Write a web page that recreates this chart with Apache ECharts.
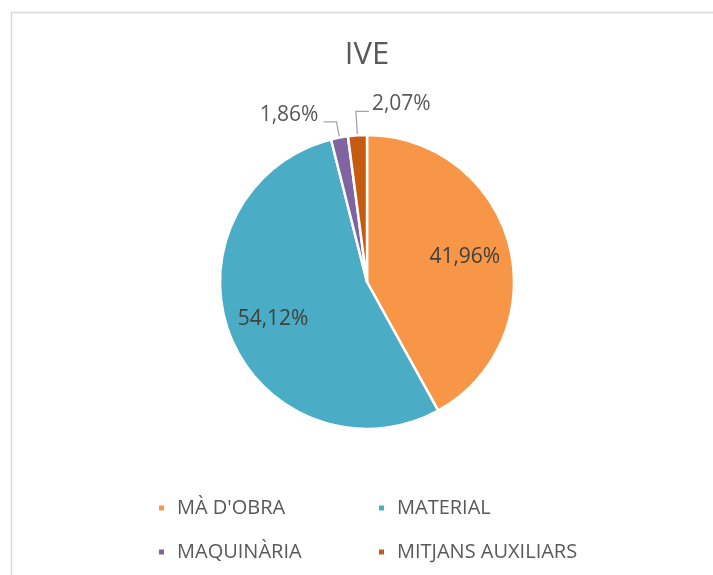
<!DOCTYPE html>
<html>
<head>
<meta charset="utf-8">
<script src="https://cdn.jsdelivr.net/npm/echarts@6/dist/echarts.min.js"></script>
<style>
  html, body { margin: 0; padding: 0; background: #ffffff; }
  #chart { width: 713px; height: 575px; }
</style>
</head>
<body>
<div id="chart"></div>
<script>
// ---- data ----
const titleText = 'IVE';
const categories = ["MÀ D'OBRA", 'MATERIAL', 'MAQUINÀRIA', 'MITJANS AUXILIARS'];
const values = [41.96, 54.12, 1.86, 2.07];

// ---- styles ----
const colors = ['#F79646', '#4BACC6', '#8064A2', '#C55A11'];
const leaderLength = [0, 0, 16, 24];
const legendLeft = [157, 377, 157, 377];
const legendTop = [498, 498, 542, 542];
const FONT = '"Open Sans", "Liberation Sans", sans-serif';

function fmt(v) { return v.toFixed(2).replace('.', ',') + '%'; }

const isSmall = values.map(v => v < 5);

const mainData = categories.map((name, i) => ({
  name: name,
  value: values[i],
  itemStyle: { color: colors[i] },
  label: { show: isSmall[i] },
  labelLine: { show: isSmall[i], length: leaderLength[i], length2: 13 }
}));

const innerLabelData = categories.map((name, i) => ({
  name: name,
  value: values[i],
  label: { show: !isSmall[i] }
}));

const legends = categories.map((name, i) => ({
  data: [name], left: legendLeft[i], top: legendTop[i], padding: 0,
  icon: 'rect', itemWidth: 7, itemHeight: 7,
  selectedMode: false,
  textStyle: { fontFamily: FONT, fontSize: 20, color: '#595959', padding: [0, 0, 0, 7] }
}));

const chart = echarts.init(document.getElementById('chart'), null, { renderer: 'canvas' });

chart.setOption({
  animation: false,
  backgroundColor: '#ffffff',
  graphic: [{
    type: 'rect', left: 9, top: 10, silent: true,
    shape: { x: 0, y: 0, width: 800, height: 700 },
    style: { fill: 'none', stroke: '#d9d9d9', lineWidth: 1.5 }
  }],
  title: {
    text: titleText, left: 367, textAlign: 'center', top: 40, padding: 0,
    textStyle: { fontFamily: FONT, fontSize: 31, fontWeight: 'normal', color: '#595959' }
  },
  legend: legends,
  series: [
    {
      type: 'pie',
      center: [367, 282],
      radius: 147,
      startAngle: 90,
      clockwise: true,
      avoidLabelOverlap: false,
      itemStyle: { borderColor: '#ffffff', borderWidth: 2.5 },
      emphasis: { disabled: true },
      label: {
        show: false, position: 'outside',
        fontFamily: FONT, fontSize: 21, color: '#595959',
        formatter: p => fmt(p.value), distanceToLabelLine: 5
      },
      labelLine: {
        show: false, smooth: false, minTurnAngle: 0,
        lineStyle: { color: '#a6a6a6', width: 1.3 }
      },
      labelLayout: function (p) {
        const pts = p.labelLinePoints;
        if (p.dataIndex === 3 && pts && pts.length === 3) {
          const p1 = pts[1], p2 = pts[2];
          const xm = p1[0] + Math.abs(p1[0] - p2[0]);
          return {
            labelLinePoints: [pts[0], p1, [xm, p1[1]]],
            x: xm + 3, y: p1[1] - 7,
            align: 'left', verticalAlign: 'middle'
          };
        }
        return { dy: -7 };
      },
      data: mainData
    },
    {
      type: 'pie',
      center: [367, 282],
      radius: [49, 147],
      startAngle: 90,
      clockwise: true,
      silent: true,
      avoidLabelOverlap: false,
      itemStyle: { color: 'rgba(0,0,0,0)', borderWidth: 0 },
      emphasis: { disabled: true },
      label: {
        show: false, position: 'inside',
        fontFamily: FONT, fontSize: 21, color: '#404040',
        formatter: p => fmt(p.value)
      },
      labelLine: { show: false },
      data: innerLabelData
    }
  ]
});
</script>
</body>
</html>
